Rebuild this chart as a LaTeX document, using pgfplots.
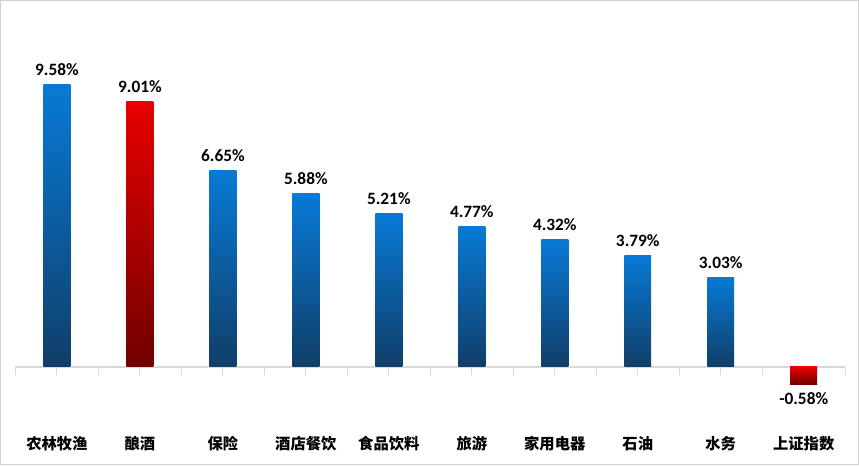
\documentclass[border=0pt]{standalone}
\usepackage{fontspec}
\setmainfont{Carlito}
\newfontfamily\cjk{Noto Sans CJK SC}
\usepackage{pgfplots}
\pgfplotsset{compat=1.18}
\definecolor{bluetop}{RGB}{8,122,214}
\definecolor{bluebot}{RGB}{16,62,104}
\definecolor{redtop}{RGB}{232,0,0}
\definecolor{redbot}{RGB}{112,0,0}
\definecolor{framegray}{RGB}{208,208,208}
\definecolor{axisgray}{RGB}{217,217,217}

\pgfplotsset{
  bluebar/.style={ybar, bar shift=0pt, draw=none, top color=bluetop, bottom color=bluebot},
  redbar/.style={ybar, bar shift=0pt, draw=none, top color=redtop, bottom color=redbot},
}

\begin{document}
\begin{tikzpicture}
\begin{axis}[
  scale only axis,
  width=644.25pt, height=348.75pt,
  xmin=-0.68, xmax=9.66,
  ymin=-3.32, ymax=12.42,
  xtick=\empty, ytick=\empty,
  axis line style={framegray, line width=0.8pt},
  clip=false,
  bar width=20.25pt,
  /pgf/number format/assume math mode=true,
  nodes near coords={\pgfmathprintnumber[fixed,fixed zerofill,precision=2]{\pgfplotspointmeta}\%},
  every node near coord/.append style={font=\bfseries\fontsize{13}{14}\selectfont, text=black, inner sep=6.5pt},
]

% axis line at zero and the ticks below it
\draw[axisgray, line width=1pt] (axis cs:-0.5,0) -- (axis cs:9.5,0);
\pgfplotsinvokeforeach{-0.5,0,...,9.5}{
  \draw[axisgray, line width=0.8pt] (axis cs:#1,0) -- ++(0pt,-6pt);
}

% one plot per bar so that each bar gets its own gradient
\addplot[bluebar] coordinates {(0,9.58)};
\addplot[redbar]  coordinates {(1,9.01)};
\addplot[bluebar] coordinates {(2,6.65)};
\addplot[bluebar] coordinates {(3,5.88)};
\addplot[bluebar] coordinates {(4,5.21)};
\addplot[bluebar] coordinates {(5,4.77)};
\addplot[bluebar] coordinates {(6,4.32)};
\addplot[bluebar] coordinates {(7,3.79)};
\addplot[bluebar] coordinates {(8,3.03)};
\addplot[redbar]  coordinates {(9,-0.58)};

% category labels
\begin{scope}[every node/.style={font=\cjk\bfseries\fontsize{11.5}{12}\selectfont}]
\node at (axis cs:0,-2.61) {农林牧渔};
\node at (axis cs:1,-2.61) {酿酒};
\node at (axis cs:2,-2.61) {保险};
\node at (axis cs:3,-2.61) {酒店餐饮};
\node at (axis cs:4,-2.61) {食品饮料};
\node at (axis cs:5,-2.61) {旅游};
\node at (axis cs:6,-2.61) {家用电器};
\node at (axis cs:7,-2.61) {石油};
\node at (axis cs:8,-2.61) {水务};
\node at (axis cs:9,-2.61) {上证指数};
\end{scope}

\end{axis}
\end{tikzpicture}
\end{document}
